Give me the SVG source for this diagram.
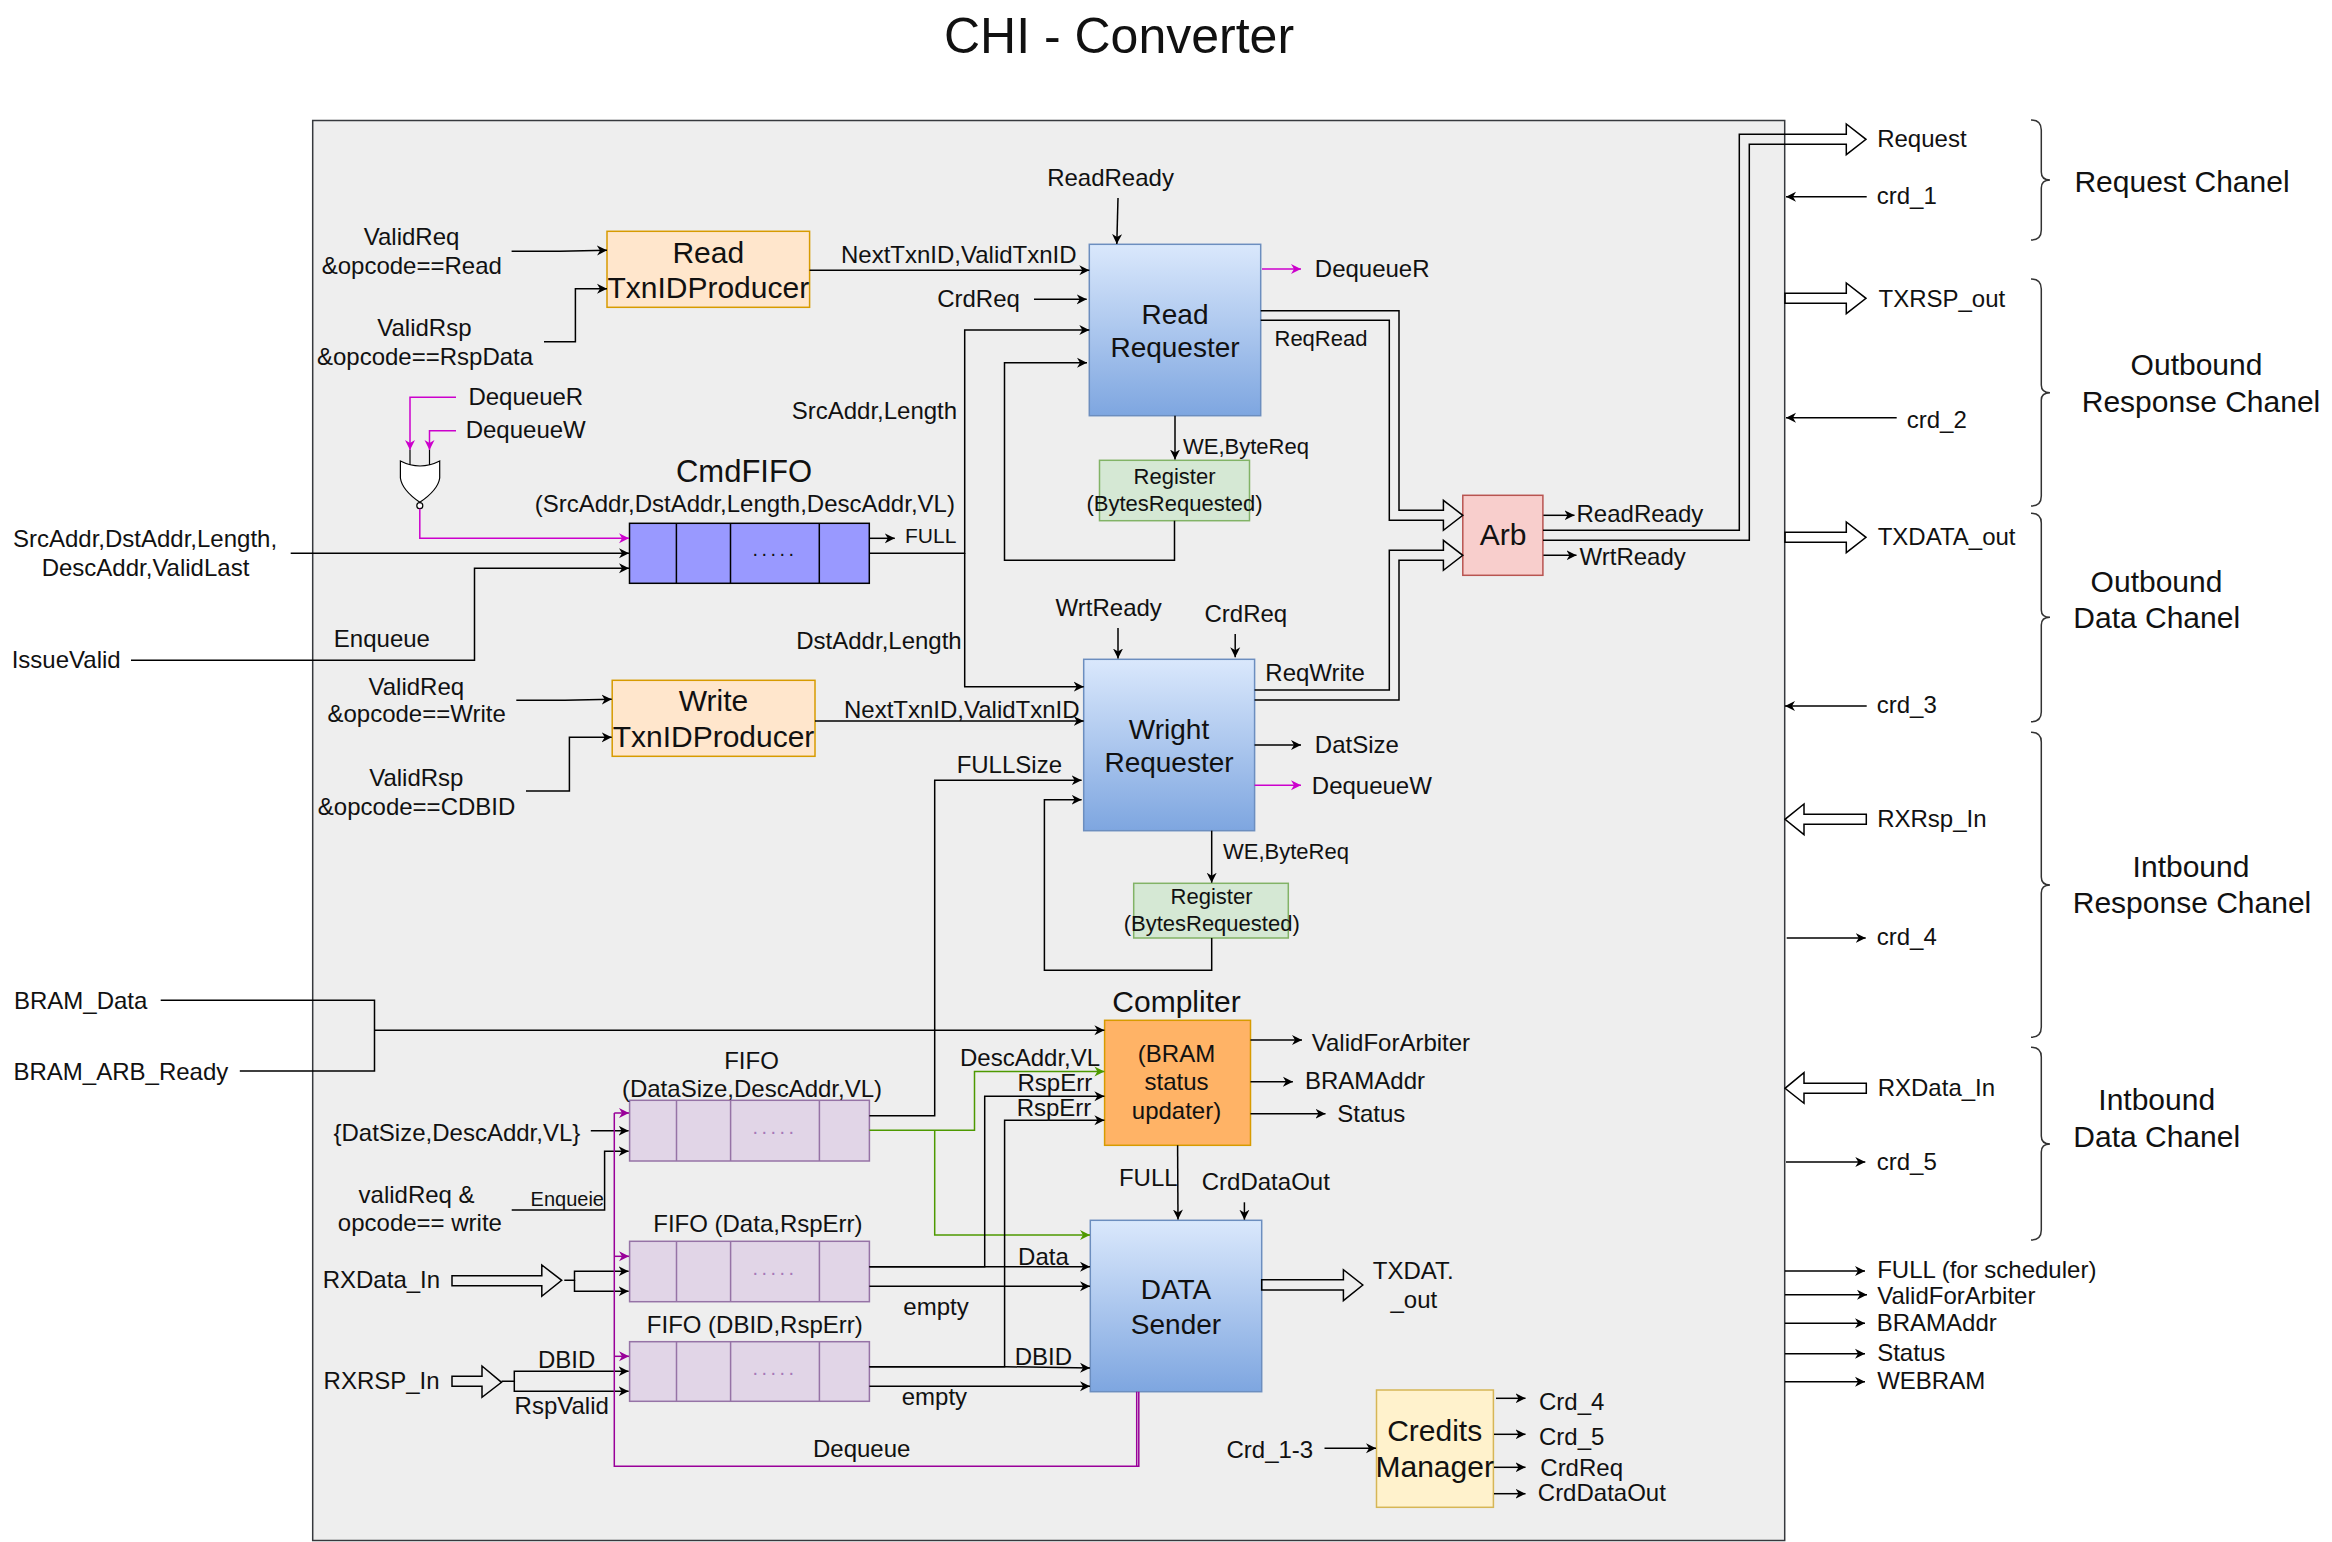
<svg xmlns="http://www.w3.org/2000/svg" width="2332" height="1542" viewBox="0 0 2332 1542">
<style>
text{font-family:"Liberation Sans",Arial,sans-serif;font-size:24px;fill:#111}
.m{text-anchor:middle}
.s20{font-size:20px}.s21{font-size:21px}.s22{font-size:22px}.s28{font-size:28px}.s30{font-size:30px}.s31{font-size:31px}
.dots{font-size:20px;letter-spacing:3.4px;text-anchor:middle}
.fd{fill:#a679b8}
.w{fill:none;stroke:#000;stroke-width:1.5}
.a{marker-end:url(#ab)}
.mg{fill:none;stroke:#cc00cc;stroke-width:1.5;marker-end:url(#am)}
.dq{fill:none;stroke:#990099;stroke-width:1.5}
.dqa{fill:none;stroke:#990099;stroke-width:1.5;marker-end:url(#ad)}
.g{fill:none;stroke:#4d9900;stroke-width:1.5;marker-end:url(#ag)}
.h{fill:none;stroke:#000;stroke-width:1.5;stroke-linejoin:miter}
.br{fill:none;stroke:#333;stroke-width:1.5}
.blue{fill:url(#bg);stroke:#6c8ebf;stroke-width:1.5}
.org{fill:#ffe6cc;stroke:#d79b00;stroke-width:1.5}
.reg{fill:#d5e8d4;stroke:#82b366;stroke-width:1.5}
.ff{fill:#e1d5e7;stroke:#9673a6;stroke-width:1.5}
.cf{fill:#9999ff;stroke:#000;stroke-width:1.5}
</style>
<defs>
<linearGradient id="bg" x1="0" y1="0" x2="0" y2="1"><stop offset="0" stop-color="#dae8fc"/><stop offset="1" stop-color="#7ea6e0"/></linearGradient>
<marker id="ab" markerUnits="userSpaceOnUse" markerWidth="11" markerHeight="11" refX="10" refY="5.5" orient="auto"><path d="M0,0.5 L10,5.5 L0,10.5 L3,5.5 Z" fill="#000"/></marker>
<marker id="am" markerUnits="userSpaceOnUse" markerWidth="11" markerHeight="11" refX="10" refY="5.5" orient="auto"><path d="M0,0.5 L10,5.5 L0,10.5 L3,5.5 Z" fill="#cc00cc"/></marker>
<marker id="ad" markerUnits="userSpaceOnUse" markerWidth="11" markerHeight="11" refX="10" refY="5.5" orient="auto"><path d="M0,0.5 L10,5.5 L0,10.5 L3,5.5 Z" fill="#990099"/></marker>
<marker id="ag" markerUnits="userSpaceOnUse" markerWidth="11" markerHeight="11" refX="10" refY="5.5" orient="auto"><path d="M0,0.5 L10,5.5 L0,10.5 L3,5.5 Z" fill="#4d9900"/></marker>
</defs>
<rect width="2332" height="1542" fill="#fff"/>
<text class="m" x="1119" y="53" style="font-size:50px">CHI - Converter</text>
<g id="converter"><rect x="312.7" y="120.5" width="1472" height="1420" fill="#eeeeee" stroke="#36393d" stroke-width="1.5"/></g>

<g id="read-txnid"><rect class="org" x="607" y="231.3" width="202.6" height="76"/><text class="m s30" x="708.3" y="262.5">Read</text><text class="m s30" x="708.3" y="298">TxnIDProducer</text></g>
<g id="write-txnid"><rect class="org" x="612.2" y="680.3" width="202.8" height="76"/><text class="m s30" x="713.5" y="711">Write</text><text class="m s30" x="713.5" y="746.5">TxnIDProducer</text></g>
<g id="read-requester"><rect class="blue" x="1089.3" y="244.3" width="171.4" height="171.4"/><text class="m s28" x="1175" y="323.5">Read</text><text class="m s28" x="1175" y="356.7">Requester</text></g>
<g id="wright-requester"><rect class="blue" x="1083.7" y="659.3" width="170.9" height="171.4"/><text class="m s28" x="1169" y="738.5">Wright</text><text class="m s28" x="1169" y="771.7">Requester</text></g>
<g id="register-read"><rect class="reg" x="1099.5" y="460.3" width="150" height="60.4"/><text class="m s22" x="1174.5" y="483.7">Register</text><text class="m s22" x="1174.5" y="510.7">(BytesRequested)</text></g>
<g id="register-write"><rect class="reg" x="1133.7" y="883.3" width="154.6" height="54.7"/><text class="m s22" x="1211.5" y="904">Register</text><text class="m s22" x="1211.7" y="931">(BytesRequested)</text></g>
<g id="arb"><rect x="1462.8" y="495.3" width="80.1" height="80" fill="#f8cecc" stroke="#b85450" stroke-width="1.5"/><text class="m s30" x="1503" y="545">Arb</text></g>
<g id="cmdfifo"><rect class="cf" x="629.5" y="523.3" width="239.8" height="60"/><path d="M676.4 523.3V583.3M730.5 523.3V583.3M819.3 523.3V583.3" stroke="#000" stroke-width="1.5"/><text class="dots" x="775" y="556">.....</text><text class="m s31" x="744" y="482">CmdFIFO</text><text class="m" x="744.8" y="512">(SrcAddr,DstAddr,Length,DescAddr,VL)</text></g>
<g id="or-gate"><path d="M400.4 461 Q420 471 439.7 461 V478 Q438 490 419.8 502.3 Q402 490 400.4 478 Z" fill="#fff" stroke="#000" stroke-width="1.2"/><circle cx="419.8" cy="505.7" r="3" fill="#fff" stroke="#000" stroke-width="1.2"/><path d="M410 450V465M429.5 450V465" stroke="#000" stroke-width="1.2"/></g>
<g id="fifo-desc"><rect class="ff" x="629.6" y="1100.3" width="239.8" height="60.7"/><path d="M676.5 1100.3V1161M730.6 1100.3V1161M819.4 1100.3V1161" stroke="#9673a6" stroke-width="1.5"/><text class="dots fd" x="775" y="1134">.....</text><text class="m" x="751.5" y="1068.5">FIFO</text><text class="m" x="752" y="1096.7">(DataSize,DescAddr,VL)</text></g>
<g id="fifo-data"><rect class="ff" x="629.6" y="1241.3" width="239.8" height="60.4"/><path d="M676.5 1241.3V1301.7M730.6 1241.3V1301.7M819.4 1241.3V1301.7" stroke="#9673a6" stroke-width="1.5"/><text class="dots fd" x="775" y="1275">.....</text><text class="m" x="757.9" y="1231.7">FIFO (Data,RspErr)</text></g>
<g id="fifo-dbid"><rect class="ff" x="629.6" y="1341.7" width="239.8" height="59.6"/><path d="M676.5 1341.7V1401.3M730.6 1341.7V1401.3M819.4 1341.7V1401.3" stroke="#9673a6" stroke-width="1.5"/><text class="dots fd" x="775" y="1375">.....</text><text class="m" x="754.8" y="1333.3">FIFO (DBID,RspErr)</text></g>
<g id="compliter"><rect x="1104.6" y="1020.3" width="145.9" height="125" fill="#ffb366" stroke="#d79b00" stroke-width="1.5"/><text class="m s30" x="1176.5" y="1012.3">Compliter</text><text class="m" x="1176.5" y="1061.5">(BRAM</text><text class="m" x="1176.5" y="1090">status</text><text class="m" x="1176.5" y="1118.7">updater)</text></g>
<g id="data-sender"><rect class="blue" x="1090.3" y="1220.3" width="171.4" height="171.4"/><text class="m s28" x="1176" y="1298.7">DATA</text><text class="m s28" x="1176" y="1333.5">Sender</text></g>
<g id="credits-manager"><rect x="1376.5" y="1390" width="116.9" height="117.3" fill="#fff2cc" stroke="#d6b656" stroke-width="1.5"/><text class="m s30" x="1434.7" y="1441">Credits</text><text class="m s30" x="1434.7" y="1477">Manager</text></g>

<g id="connectors">
<path class="w a" d="M511.6 251.3H560L607 250.3"/>
<path class="w a" d="M544 341.7H575.4V288.7H607"/>
<path class="w a" d="M809.6 270.3H1089.3"/>
<path class="w a" d="M1034 299.3H1086.7"/>
<path class="w a" d="M869.3 553.3H964.7V330H1089.3"/>
<path class="w a" d="M964.7 553.3V686.7H1083.7"/>
<path class="w a" d="M1174.5 520.7V560.3H1004.5V362.7H1087"/>
<path class="w a" d="M1118 198L1116.8 244"/>
<path class="mg" d="M1262 269H1301"/>
<path class="h" d="M1260.7 310.7H1399V510.3H1443.4V500.3L1462.8 515.3L1443.4 530.3V520.3H1389.3V320.3H1260.7"/>
<path class="h" d="M1254.6 690H1389.3V550.3H1443.4V540.3L1462.8 555.3L1443.4 570.3V560.3H1399V700H1254.6"/>
<path class="w a" d="M1543.4 515.3H1574.5"/>
<path class="w a" d="M1543.4 555.3H1576.5"/>
<path class="h" d="M1543 530.3H1739.3V134.3H1846.3V124L1866 139.3L1846.3 154.7V144.3H1749.3V540.3H1543"/>
<path class="w a" d="M1175 415.7V459.5"/>
<path class="mg" d="M419.8 508.7V538.3H629"/>
<path class="mg" d="M456 397.3H410V450"/>
<path class="mg" d="M456 430.7H429.5V450"/>
<path class="w a" d="M290.7 553.3H629"/>
<path class="w a" d="M131 660.3H474.5V568.3H629"/>
<path class="w a" d="M869.3 538.3H894.8"/>
<path class="w a" d="M516.3 700.3H565L611.7 699.3"/>
<path class="w a" d="M526 791H569.4V737.3H611.7"/>
<path class="w a" d="M815 721H1083.7"/>
<path class="h" d="M160.7 1000.3H374.5V1071H239.8"/>
<path class="w a" d="M374.5 1030.3H1104.4"/>
<path class="w a" d="M869.4 1115.7H934.7V780.3H1081.6"/>
<path class="w a" d="M1118 628V658.5"/>
<path class="w a" d="M1235.2 634V657.3"/>
<path class="w a" d="M1254.6 745H1301"/>
<path class="mg" d="M1254.6 785.3H1301"/>
<path class="w a" d="M1211.7 830.7V882.7"/>
<path class="w a" d="M1211.7 938V970.3H1044.4V799.7H1081.6"/>
<path class="w a" d="M1250.5 1040H1302"/>
<path class="w a" d="M1250.5 1081.7H1292.9"/>
<path class="w a" d="M1250.5 1113.7H1325.5"/>
<path class="g" d="M869.4 1130.3H974.5V1071.5H1104.4"/>
<path class="g" d="M934.7 1130.3V1235H1090"/>
<path class="w a" d="M869.4 1266.7H984.7V1096.3H1104.4"/>
<path class="w a" d="M869.4 1266.7H1090"/>
<path class="w a" d="M869.4 1366.7H1004.6V1120.3H1104.4"/>
<path class="w a" d="M869.4 1366.7H1004.6L1090 1368"/>
<path class="w a" d="M869.4 1286.3H1090"/>
<path class="w a" d="M869.4 1386.3H1090"/>
<path class="w a" d="M590.8 1130.7H628.6"/>
<path class="w a" d="M511.7 1210H604.6V1151.3H628.6"/>
<path class="h" d="M452 1275.7H541.8V1265L561.7 1280.3L541.8 1296.3V1285.7H452Z"/>
<path class="w a" d="M564.3 1280.3H574.5V1271.3H628.6"/>
<path class="w a" d="M574.5 1280.3V1291.3H628.6"/>
<path class="h" d="M452 1376.3H482V1366L501.5 1382.3L482 1397.3V1386.3H452Z"/>
<path class="w a" d="M501.5 1381.3H514.3V1371.3H628.6"/>
<path class="w a" d="M514.3 1381.3V1391.3H628.6"/>
<path class="dq" d="M1136.7 1391.7V1466.3"/>
<path class="dq" d="M1138.8 1391.7V1466.3H614.3V1113"/>
<path class="dqa" d="M614.3 1113H629"/>
<path class="dqa" d="M614.3 1256.3H629"/>
<path class="dqa" d="M614.3 1356.3H629"/>
<path class="w a" d="M1177.6 1145.3L1178 1219.5"/>
<path class="w a" d="M1244.4 1202.3V1219.7"/>
<path class="h" d="M1261.7 1279.7H1343.4V1269.7L1362.8 1285L1343.4 1300.7V1290H1261.7Z"/>
<path class="w a" d="M1324.5 1448.3H1376"/>
<path class="w a" d="M1496 1398.3H1525.5"/>
<path class="w a" d="M1494 1434.3H1525.5"/>
<path class="w a" d="M1494 1467.3H1525.5"/>
<path class="w a" d="M1494 1493.7H1525.5"/>
<path class="w a" d="M1866.7 196.7H1786"/>
<path class="w a" d="M1896.7 417.7H1786"/>
<path class="w a" d="M1866.7 706H1785"/>
<path class="w a" d="M1786.7 938H1865.7"/>
<path class="w a" d="M1786 1162H1865.3"/>
<path class="h" d="M1785 293.3H1846.3V283L1866 298.3L1846.3 313.7V303.3H1785Z"/>
<path class="h" d="M1785 532.3H1846.3V522L1866 537.3L1846.3 552.7V542.3H1785Z"/>
<path class="h" d="M1866.3 814.3H1804V804L1785 819.3L1804 834.7V824.3H1866.3Z"/>
<path class="h" d="M1866.3 1083.3H1804V1072.7L1785 1088.3L1804 1103.3V1093.3H1866.3Z"/>
<path class="w a" d="M1785 1271H1865"/>
<path class="w a" d="M1785 1294.7H1867"/>
<path class="w a" d="M1785 1323.3H1865"/>
<path class="w a" d="M1785 1353.7H1865"/>
<path class="w a" d="M1785 1381.7H1865"/>
</g>

<g id="braces">
<path class="br" d="M2031 120Q2041.3 120 2041.3 130V172Q2041.3 180 2050 180Q2041.3 180 2041.3 188V230Q2041.3 240 2031 240"/>
<path class="br" d="M2031 279Q2041.3 279 2041.3 289V385Q2041.3 392.7 2050 392.7Q2041.3 392.7 2041.3 400V496Q2041.3 506 2031 506"/>
<path class="br" d="M2031 513.3Q2041.3 513.3 2041.3 523V610Q2041.3 617.3 2050 617.3Q2041.3 617.3 2041.3 625V712Q2041.3 721.7 2031 721.7"/>
<path class="br" d="M2031 732.3Q2041.3 732.3 2041.3 742V877Q2041.3 885 2050 885Q2041.3 885 2041.3 893V1027Q2041.3 1037.3 2031 1037.3"/>
<path class="br" d="M2031 1047.3Q2041.3 1047.3 2041.3 1057V1136Q2041.3 1144 2050 1144Q2041.3 1144 2041.3 1152V1230Q2041.3 1240 2031 1240"/>
</g>

<g id="labels">
<text class="m" x="411.6" y="245">ValidReq</text><text class="m" x="411.8" y="274">&amp;opcode==Read</text>
<text class="m" x="424.4" y="336">ValidRsp</text><text class="m" x="425" y="364.7">&amp;opcode==RspData</text>
<text class="m" x="525.8" y="405">DequeueR</text><text class="m" x="525.7" y="438">DequeueW</text>
<text x="841" y="262.7">NextTxnID,ValidTxnID</text>
<text class="m" x="978.5" y="307.2">CrdReq</text>
<text class="m" x="874.4" y="418.5">SrcAddr,Length</text>
<text class="s21" x="905" y="543">FULL</text>
<text class="m" x="145" y="547">SrcAddr,DstAddr,Length,</text><text class="m" x="145.5" y="575.5">DescAddr,ValidLast</text>
<text x="11.7" y="667.7">IssueValid</text>
<text class="m" x="381.9" y="646.7">Enqueue</text>
<text class="m" x="879" y="648.5">DstAddr,Length</text>
<text class="m" x="416.3" y="694.5">ValidReq</text><text class="m" x="416.6" y="722.3">&amp;opcode==Write</text>
<text class="m" x="416.3" y="785.5">ValidRsp</text><text class="m" x="416.6" y="814.5">&amp;opcode==CDBID</text>
<text x="844" y="718">NextTxnID,ValidTxnID</text>
<text x="14" y="1008.5">BRAM_Data</text><text x="13.5" y="1079.5">BRAM_ARB_Ready</text>
<text class="m" x="456.9" y="1140.5">{DatSize,DescAddr,VL}</text>
<text class="m" x="416.6" y="1203">validReq &amp;</text><text class="m" x="419.9" y="1231.3">opcode== write</text>
<text class="s20" x="530.6" y="1205.7">Enqueie</text>
<text class="m" x="381.4" y="1287.7">RXData_In</text><text class="m" x="381.6" y="1389">RXRSP_In</text>
<text class="m" x="566.6" y="1368.3">DBID</text><text class="m" x="561.7" y="1414.3">RspValid</text>
<text class="m" x="936" y="1314.5">empty</text><text class="m" x="934.4" y="1405.2">empty</text>
<text class="m" x="861.7" y="1456.7">Dequeue</text>
<text class="m" x="1043.4" y="1264.5">Data</text><text class="m" x="1043.4" y="1364.7">DBID</text>
<text x="960" y="1066.3">DescAddr,VL</text>
<text class="m" x="1054.8" y="1091.3">RspErr</text><text class="m" x="1054" y="1115.7">RspErr</text>
<text x="1062" y="773.2" text-anchor="end">FULLSize</text>
<text x="1314.8" y="276.7">DequeueR</text>
<text class="s22" x="1274.5" y="345.7">ReqRead</text>
<text class="s22" x="1183" y="454">WE,ByteReq</text>
<text x="1576.5" y="521.7">ReadReady</text><text x="1579.5" y="564.5">WrtReady</text>
<text class="m" x="1110.5" y="185.5">ReadReady</text>
<text x="1055.6" y="615.5">WrtReady</text><text x="1204.5" y="621.5">CrdReq</text>
<text x="1265.3" y="680.5">ReqWrite</text>
<text x="1314.8" y="752.7">DatSize</text><text x="1311.8" y="793.8">DequeueW</text>
<text class="s22" x="1223" y="858.7">WE,ByteReq</text>
<text x="1311.8" y="1050.7">ValidForArbiter</text><text x="1305" y="1088.7">BRAMAddr</text><text x="1337.3" y="1122.2">Status</text>
<text x="1118.9" y="1186">FULL</text>
<text class="m" x="1265.8" y="1190.2">CrdDataOut</text>
<text class="m" x="1413.3" y="1278.7">TXDAT.</text><text class="m" x="1413.8" y="1307.7">_out</text>
<text x="1226.5" y="1458">Crd_1-3</text>
<text x="1539" y="1409.5">Crd_4</text><text x="1539" y="1444.5">Crd_5</text><text x="1540.3" y="1475.5">CrdReq</text><text x="1537.8" y="1501.2">CrdDataOut</text>
<text x="1877.2" y="146.7">Request</text><text x="1876.7" y="204">crd_1</text>
<text x="1878.5" y="306.7">TXRSP_out</text><text x="1906.7" y="428">crd_2</text>
<text x="1877.7" y="545">TXDATA_out</text><text x="1876.7" y="712.7">crd_3</text>
<text x="1877.2" y="826.7">RXRsp_In</text><text x="1876.7" y="945">crd_4</text>
<text x="1877.7" y="1096">RXData_In</text><text x="1876.7" y="1170">crd_5</text>
<text x="1877.2" y="1277.7">FULL (for scheduler)</text><text x="1877.2" y="1304.3">ValidForArbiter</text>
<text x="1876.7" y="1330.7">BRAMAddr</text><text x="1877.2" y="1361.3">Status</text><text x="1877.2" y="1389">WEBRAM</text>
<text class="m s30" x="2182" y="191.7">Request Chanel</text>
<text class="m s30" x="2196.5" y="375">Outbound</text><text class="m s30" x="2201" y="411.7">Response Chanel</text>
<text class="m s30" x="2156.5" y="591.7">Outbound</text><text class="m s30" x="2156.7" y="628.3">Data Chanel</text>
<text class="m s30" x="2191" y="876.7">Intbound</text><text class="m s30" x="2192" y="912.7">Response Chanel</text>
<text class="m s30" x="2156.7" y="1110">Intbound</text><text class="m s30" x="2156.7" y="1146.7">Data Chanel</text>
</g>
</svg>
